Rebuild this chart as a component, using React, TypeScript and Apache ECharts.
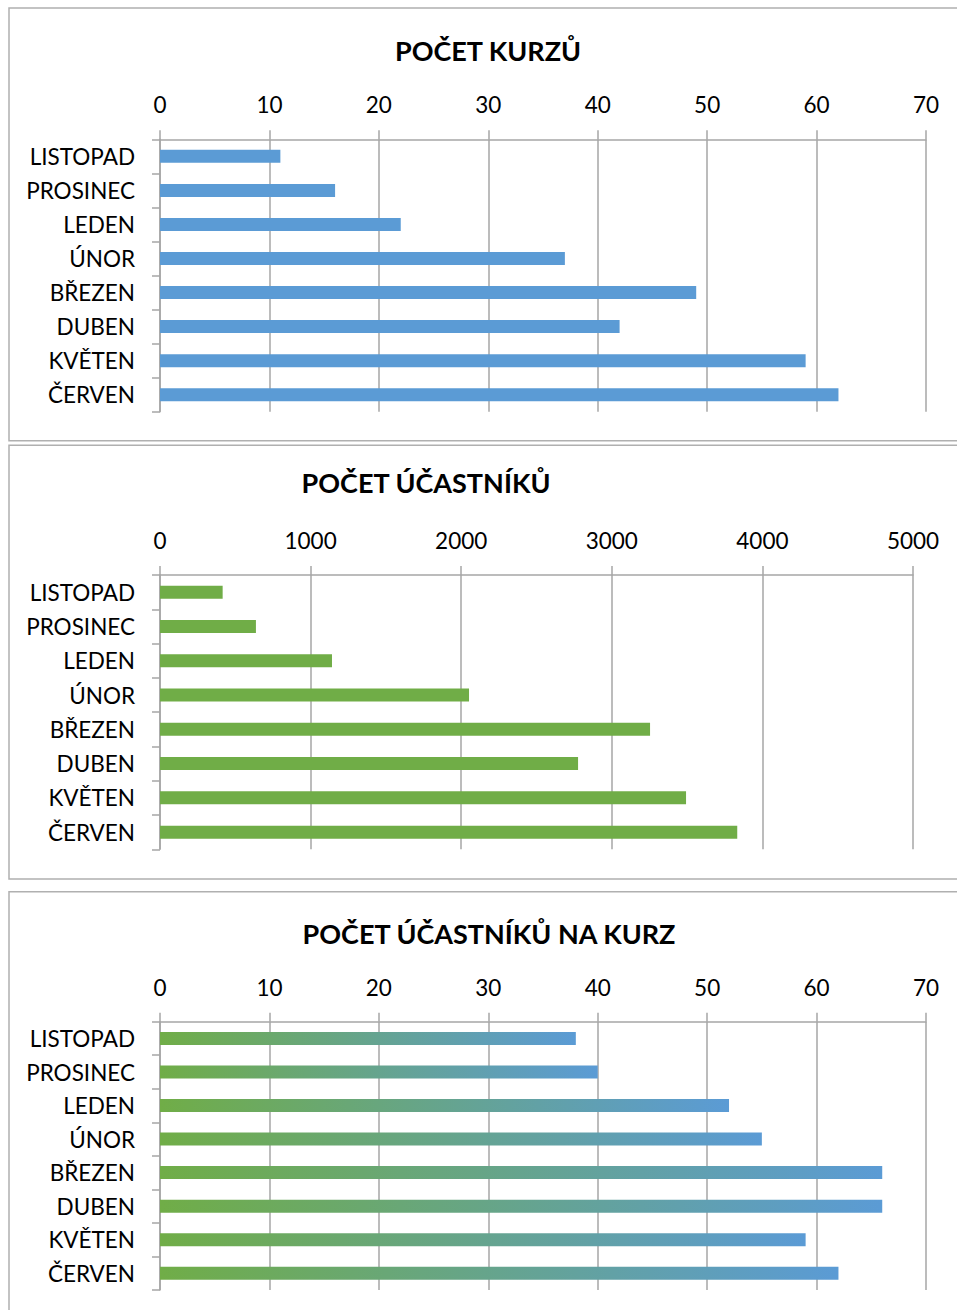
import React, { useEffect, useRef } from "react";
import * as echarts from "echarts";

const categories = ["LISTOPAD", "PROSINEC", "LEDEN", "ÚNOR", "BŘEZEN", "DUBEN", "KVĚTEN", "ČERVEN"];
const courses = [11, 16, 22, 37, 49, 42, 59, 62];
const participants = [416, 637, 1142, 2052, 3254, 2776, 3493, 3833];
const perCourse = [38, 40, 52, 55, 66, 66, 59, 62];

const titles = ["POČET KURZŮ", "POČET ÚČASTNÍKŮ", "POČET ÚČASTNÍKŮ NA KURZ"];
const axisMax = [70, 5000, 70];
const axisInterval = [10, 1000, 10];

const FONT = "Lato";
const GRAY = "#a6a6a6";
const BLUE = "#5b9bd5";
const GREEN = "#70ad47";

export default function App() {
  const ref = useRef<HTMLDivElement>(null);
  useEffect(() => {
    if (!ref.current) return;
    const chart = echarts.init(ref.current, undefined, { renderer: "svg" });
    const grids = [
      { left: 160, width: 766, top: 139.3, height: 272.4 },
      { left: 160, width: 753, top: 575, height: 274.3 },
      { left: 160, width: 766, top: 1021.7, height: 268.3 },
    ];
    const titlePos = [
      { x: 488, y: 50 },
      { x: 426, y: 482 },
      { x: 489, y: 933 },
    ];
    const xAxes = grids.map((_, i) => ({
      type: "value" as const,
      gridIndex: i,
      position: "top" as const,
      min: 0,
      max: axisMax[i],
      interval: axisInterval[i],
      axisLine: { show: true, lineStyle: { color: GRAY, width: 1.5 } },
      axisTick: { show: true, length: 9, lineStyle: { color: GRAY, width: 1.5 } },
      splitLine: { show: true, lineStyle: { color: GRAY, width: 1.5 } },
      axisLabel: {
        color: "#000",
        fontFamily: FONT,
        fontSize: 22.5,
        margin: 23,
        formatter: (v: number) => String(v),
      },
    }));
    const yAxes = grids.map((_, i) => ({
      type: "category" as const,
      gridIndex: i,
      data: categories,
      inverse: true,
      axisLine: { show: true, lineStyle: { color: GRAY, width: 1.5 } },
      axisTick: { show: true, length: 8, lineStyle: { color: GRAY, width: 1.5 } },
      axisLabel: { color: "#000", fontFamily: FONT, fontSize: 22.5, margin: 25 },
    }));
    const gradient = new echarts.graphic.LinearGradient(0, 0, 1, 0, [
      { offset: 0, color: GREEN },
      { offset: 1, color: BLUE },
    ]);
    const datasets = [courses, participants, perCourse];
    const colors: any[] = [BLUE, GREEN, gradient];
    const series = datasets.map((d, i) => ({
      type: "bar" as const,
      xAxisIndex: i,
      yAxisIndex: i,
      data: d,
      barWidth: 13,
      itemStyle: { color: colors[i] },
    }));
    const panels = [
      { y: 8, h: 432.7 },
      { y: 445.3, h: 433.7 },
      { y: 891.7, h: 440 },
    ];
    const graphic: any[] = [];
    panels.forEach((p) => {
      graphic.push({
        type: "rect",
        shape: { x: 9, y: p.y, width: 970, height: p.h },
        style: { fill: "none", stroke: "#b0b0b0", lineWidth: 1.5 },
        z: -1,
      });
    });
    titles.forEach((t, i) => {
      graphic.push({
        type: "text",
        x: titlePos[i].x,
        y: titlePos[i].y,
        style: {
          text: t,
          fill: "#000",
          font: `bold 27px ${FONT}`,
          textAlign: "center",
          textVerticalAlign: "middle",
        },
      });
    });
    chart.setOption({
      animation: false,
      backgroundColor: "#fff",
      grid: grids,
      xAxis: xAxes,
      yAxis: yAxes,
      series,
      graphic,
    });
    return () => chart.dispose();
  }, []);
  return (
    <div
      ref={ref}
      style={{ position: "absolute", left: 0, top: 0, width: 957, height: 1310 }}
    />
  );
}
